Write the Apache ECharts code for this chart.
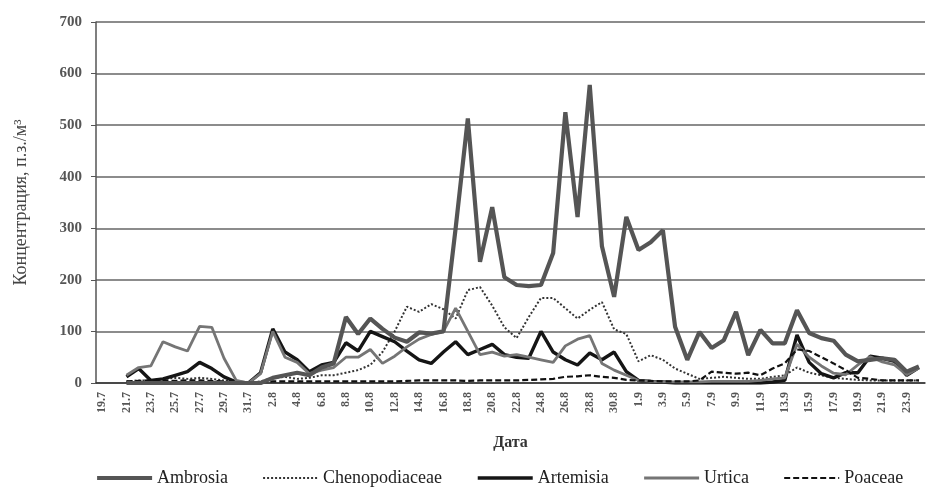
<!DOCTYPE html>
<html>
<head>
<meta charset="utf-8">
<script src="https://cdn.jsdelivr.net/npm/echarts@6/dist/echarts.min.js"></script>
<style>
  html, body { margin: 0; padding: 0; background: #fff; }
  #chart { width: 930px; height: 488px; }
</style>
</head>
<body>
<div id="chart"></div>
<script>
// Daily dates, 19.7 – 24.9
const dates = [
  '19.7','20.7','21.7','22.7','23.7','24.7','25.7','26.7','27.7','28.7','29.7','30.7','31.7',
  '1.8','2.8','3.8','4.8','5.8','6.8','7.8','8.8','9.8','10.8','11.8','12.8','13.8','14.8','15.8',
  '16.8','17.8','18.8','19.8','20.8','21.8','22.8','23.8','24.8','25.8','26.8','27.8','28.8','29.8',
  '30.8','31.8','1.9','2.9','3.9','4.9','5.9','6.9','7.9','8.9','9.9','10.9','11.9','12.9','13.9',
  '14.9','15.9','16.9','17.9','18.9','19.9','20.9','21.9','22.9','23.9','24.9'
];

// Pollen concentration, grains/m3
const ambrosia = [
  null, null, 0, 0, 0, 0, 0, 0, 0, 0, 0, 0, 0,
  0, 10, 15, 20, 15, 30, 38, 128, 95, 125, 105, 88, 80, 98, 96,
  100, 300, 513, 235, 341, 205, 190, 188, 190, 252, 525, 322, 578, 265,
  167, 322, 258, 273, 296, 109, 45, 99, 68, 83, 138, 54, 103, 77, 77,
  141, 97, 87, 82, 55, 42, 45, 48, 45, 22, 32
];
const chenopodiaceae = [
  null, null, 3, 5, 5, 8, 10, 8, 10, 8, 5, 0, 0,
  3, 10, 12, 8, 10, 15, 15, 20, 25, 35, 60, 100, 148, 138, 153,
  143, 125, 180, 186, 150, 108, 87, 128, 165, 165, 145, 125, 142, 157,
  104, 95, 42, 54, 45, 28, 18, 8, 10, 12, 10, 8, 8, 12, 15,
  30, 20, 15, 10, 8, 6, 5, 5, 5, 5, 5
];
const artemisia = [
  null, null, 12, 28, 5, 8, 15, 22, 40, 28, 12, 2, 0,
  20, 105, 60, 45, 22, 35, 40, 78, 62, 100, 90, 80, 62, 45, 38,
  60, 80, 55, 65, 75, 55, 50, 48, 100, 60, 45, 35, 58, 45,
  60, 22, 5, 3, 2, 0, 0, 0, 0, 0, 0, 0, 0, 2, 5,
  93, 40, 18, 10, 20, 20, 52, 48, 42, 15, 30
];
const urtica = [
  null, null, 15, 30, 33, 80, 70, 62, 110, 108, 48, 5, 0,
  18, 100, 50, 40, 18, 25, 30, 50, 50, 65, 38, 52, 70, 85, 94,
  100, 145, 100, 55, 60, 52, 55, 50, 45, 40, 72, 85, 92, 38,
  25, 15, 5, 3, 2, 2, 2, 2, 3, 3, 3, 3, 5, 8, 10,
  75, 50, 33, 19, 16, 35, 51, 41, 35, 16, 29
];
const poaceae = [
  null, null, 3, 4, 5, 5, 4, 5, 5, 4, 3, 0, 0,
  2, 3, 3, 3, 3, 3, 3, 3, 3, 3, 3, 3, 4, 5, 5,
  5, 5, 4, 5, 5, 5, 5, 6, 7, 8, 12, 13, 15, 12,
  10, 6, 5, 4, 3, 3, 3, 5, 22, 20, 18, 20, 15, 28, 38,
  65, 62, 50, 38, 25, 10, 8, 5, 5, 5, 5
];

const yTicks = [0, 100, 200, 300, 400, 500, 600, 700];

const serif = '"Liberation Serif", "DejaVu Serif", serif';

// name, colour, width, dash
const styles = [
  ['Ambrosia', '#555555', 4.2, 'solid'],
  ['Chenopodiaceae', '#333333', 2, [2, 2]],
  ['Artemisia', '#151515', 3.4, 'solid'],
  ['Urtica', '#757575', 2.8, 'solid'],
  ['Poaceae', '#111111', 2.2, [6, 3]]
];
const seriesData = [ambrosia, chenopodiaceae, artemisia, urtica, poaceae];

const chart = echarts.init(document.getElementById('chart'), null, { renderer: 'canvas' });
chart.setOption({
  animation: false,
  backgroundColor: '#fff',
  grid: { left: 96, right: 5, top: 22, bottom: 105 },
  xAxis: {
    type: 'category',
    data: dates,
    boundaryGap: true,
    name: 'Дата',
    nameLocation: 'middle',
    nameGap: 52,
    nameTextStyle: { fontFamily: serif, fontSize: 16, fontWeight: 'bold', color: '#333' },
    axisLine: { lineStyle: { color: '#333', width: 1.5 } },
    axisTick: { interval: 1, length: 4, lineStyle: { color: '#555' } },
    axisLabel: {
      interval: 1, rotate: 90, fontFamily: serif, fontSize: 12,
      fontWeight: 'bold', color: '#555', margin: 9
    }
  },
  yAxis: {
    type: 'value',
    min: yTicks[0],
    max: yTicks[yTicks.length - 1],
    interval: 100,
    name: 'Концентрация, п.з./м³',
    nameLocation: 'middle',
    nameGap: 66,
    nameTextStyle: { fontFamily: serif, fontSize: 18, color: '#444' },
    axisLine: { show: true, lineStyle: { color: '#555', width: 1.5 } },
    axisTick: { show: true, length: 5, lineStyle: { color: '#555' } },
    axisLabel: { fontFamily: serif, fontSize: 15, fontWeight: 'bold', color: '#555', margin: 14 },
    splitLine: { lineStyle: { color: '#8c8c8c', width: 2 } }
  },
  legend: {
    bottom: 1,
    left: 95,
    width: 835,
    padding: 0,
    itemWidth: 55,
    itemHeight: 10,
    itemGap: 34,
    itemStyle: { opacity: 0 },
    textStyle: { fontFamily: serif, fontSize: 18, color: '#222' },
    data: styles.map(s => ({
      name: s[0],
      lineStyle: { color: s[1], width: Math.max(2, s[2]), type: s[3] }
    }))
  },
  series: styles.map((s, i) => ({
    name: s[0],
    type: 'line',
    data: seriesData[i],
    symbol: 'none',
    lineStyle: { color: s[1], width: s[2], type: s[3] },
    itemStyle: { color: s[1] },
    z: i === 0 ? 3 : 2
  }))
});
</script>
</body>
</html>
